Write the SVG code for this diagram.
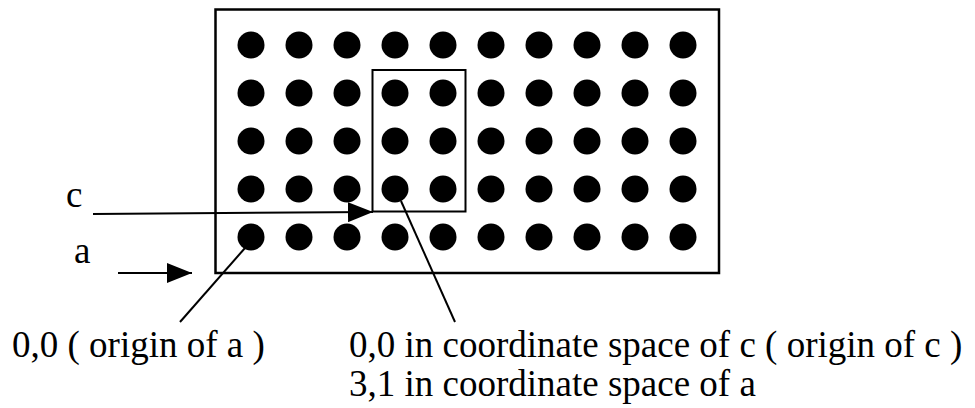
<svg xmlns="http://www.w3.org/2000/svg" width="975" height="408" viewBox="0 0 975 408">
<style>
.ln{stroke:#000;stroke-width:2;fill:none}
.t{font-family:'Liberation Serif','Times New Roman',serif;font-size:37px;fill:#000}
.dot{fill:#000}
</style>
<defs>
<marker id="ah" markerWidth="25" markerHeight="20" refX="25" refY="10" orient="auto" markerUnits="userSpaceOnUse">
<path d="M0,0 L25,10 L0,20 Z" fill="#000"/>
</marker>
<circle id="d" r="13.5" class="dot"/>
<g id="row">
<use href="#d" x="251"/><use href="#d" x="299"/><use href="#d" x="347"/><use href="#d" x="395"/><use href="#d" x="443"/><use href="#d" x="491"/><use href="#d" x="539"/><use href="#d" x="587"/><use href="#d" x="635"/><use href="#d" x="683"/>
</g>
</defs>
<rect fill="#fff" width="975" height="408"/>
<g id="grid">
<rect x="215.5" y="9.5" width="503.5" height="263.5" class="ln" style="stroke-width:2.5"/>
<use href="#row" y="45"/>
<use href="#row" y="93"/>
<use href="#row" y="141"/>
<use href="#row" y="189"/>
<use href="#row" y="237"/>
</g>
<g id="rect-c">
<rect x="372.5" y="70" width="93" height="141.5" class="ln"/>
</g>
<g id="label-c"><text class="t" x="66" y="207">c</text></g>
<g id="label-a"><text class="t" x="74" y="263">a</text></g>
<g id="label-origin-a"><text class="t" x="12" y="357">0,0 ( origin of a )</text></g>
<g id="label-origin-c">
<text class="t" x="349" y="357">0,0 in coordinate space of c ( origin of c )</text>
<text class="t" x="349" y="396">3,1 in coordinate space of a</text>
</g>
<g id="connectors">
<line class="ln" x1="93" y1="214" x2="373" y2="212" marker-end="url(#ah)"/>
<line class="ln" x1="118" y1="273" x2="192" y2="273" marker-end="url(#ah)"/>
<line class="ln" x1="245" y1="248" x2="180" y2="322"/>
<line class="ln" x1="401" y1="201" x2="455" y2="322"/>
</g>
</svg>
